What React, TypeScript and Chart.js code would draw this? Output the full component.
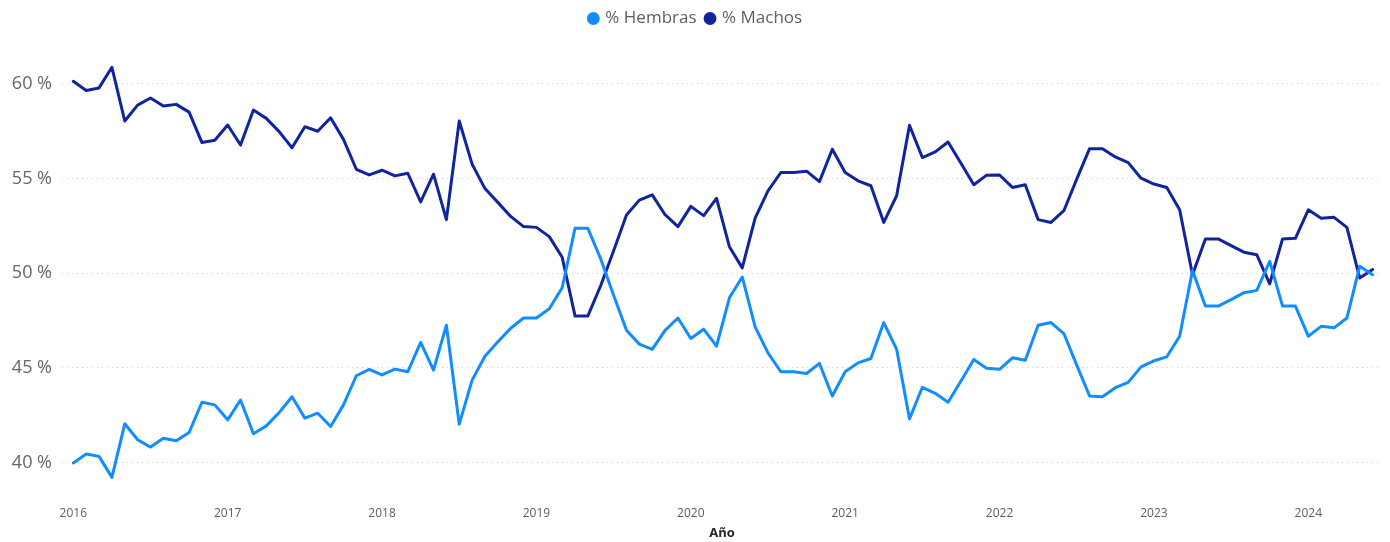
import React, { useEffect, useRef } from "react";
import { Chart, registerables } from "chart.js";

Chart.register(...registerables);

const YEARS = ["2016", "2017", "2018", "2019", "2020", "2021", "2022", "2023", "2024"];
const MONTHS = ["01", "02", "03", "04", "05", "06", "07", "08", "09", "10", "11", "12"];

const MACHOS = [
  60.14, 59.65, 59.79, 60.88, 58.04, 58.88, 59.26, 58.83, 58.92, 58.51, 56.9, 57.02,
  57.83, 56.77, 58.62, 58.18, 57.48, 56.63, 57.74, 57.5, 58.21, 57.07, 55.49, 55.19,
  55.44, 55.14, 55.28, 53.77, 55.23, 52.83, 58.04, 55.76, 54.47, 53.74, 53.0, 52.46,
  52.42, 51.93, 50.84, 47.74, 47.74, 49.35, 51.19, 53.07, 53.86, 54.14, 53.09, 52.46,
  53.53, 53.04, 53.95, 51.4, 50.28, 52.91, 54.35, 55.32, 55.32, 55.39, 54.84, 56.55,
  55.32, 54.88, 54.62, 52.68, 54.09, 57.81, 56.11, 56.41, 56.93, 55.81, 54.67, 55.18,
  55.19, 54.53, 54.67, 52.83, 52.68, 53.3, 54.97, 56.58, 56.58, 56.14, 55.84, 55.02,
  54.71, 54.53, 53.35, 49.92, 51.81, 51.81, 51.46, 51.11, 50.97, 49.44, 51.81, 51.84,
  53.35, 52.9, 52.95, 52.42, 49.74, 50.19,
];

const HEMBRAS = [
  39.97, 40.44, 40.32, 39.21, 42.04, 41.2, 40.81, 41.28, 41.14, 41.58, 43.18, 43.04,
  42.25, 43.3, 41.51, 41.93, 42.63, 43.47, 42.34, 42.6, 41.9, 43.04, 44.58, 44.92,
  44.62, 44.93, 44.79, 46.34, 44.88, 47.25, 42.02, 44.35, 45.61, 46.37, 47.09, 47.63,
  47.63, 48.12, 49.23, 52.37, 52.37, 50.75, 48.83, 46.98, 46.25, 45.97, 46.98, 47.63,
  46.55, 47.04, 46.14, 48.7, 49.8, 47.16, 45.79, 44.79, 44.79, 44.7, 45.23, 43.51,
  44.79, 45.26, 45.49, 47.39, 45.98, 42.3, 43.97, 43.65, 43.18, 44.3, 45.44, 44.97,
  44.92, 45.53, 45.4, 47.25, 47.39, 46.81, 45.14, 43.51, 43.47, 43.95, 44.23, 45.05,
  45.37, 45.58, 46.67, 50.14, 48.26, 48.26, 48.6, 48.97, 49.09, 50.63, 48.26, 48.26,
  46.67, 47.19, 47.11, 47.63, 50.37, 49.92,
];

const Y_TICKS = [40, 45, 50, 55, 60];

const LABELS = YEARS.flatMap((y) => MONTHS.map((m) => `${y}-${m}`)).slice(0, MACHOS.length);

const FONT = "'Segoe UI', 'Open Sans', 'Noto Sans', sans-serif";

export default function App() {
  const ref = useRef<HTMLCanvasElement | null>(null);

  useEffect(() => {
    if (!ref.current) return;
    const toPoints = (arr: number[]) => arr.map((v, i) => ({ x: i, y: v, label: LABELS[i] }));
    const chart = new Chart(ref.current, {
      type: "line",
      data: {
        datasets: [
          {
            label: "% Hembras",
            data: toPoints(HEMBRAS),
            borderColor: "#118DFF",
            backgroundColor: "#118DFF",
            borderWidth: 3,
            pointRadius: 0,
            tension: 0,
            borderJoinStyle: "round",
            borderCapStyle: "round",
          },
          {
            label: "% Machos",
            data: toPoints(MACHOS),
            borderColor: "#12239E",
            backgroundColor: "#12239E",
            borderWidth: 3,
            pointRadius: 0,
            tension: 0,
            borderJoinStyle: "round",
            borderCapStyle: "round",
          },
        ],
      },
      options: {
        animation: false,
        responsive: true,
        maintainAspectRatio: false,
        layout: { padding: { left: 10, right: 8, top: 0, bottom: 0 } },
        plugins: {
          legend: {
            position: "top",
            align: "center",
            labels: {
              usePointStyle: true,
              pointStyle: "circle",
              boxWidth: 7,
              boxHeight: 7,
              padding: 10,
              color: "#605E5C",
              font: { family: FONT, size: 17 },
            },
          },
          tooltip: { enabled: false },
        },
        scales: {
          x: {
            type: "linear",
            min: -0.88,
            max: 101.73,
            afterBuildTicks: (scale: any) => {
              scale.ticks = YEARS.map((_, i) => ({ value: i * 12 }));
            },
            afterFit: (scale: any) => {
              scale.height = 51.2;
            },
            ticks: {
              autoSkip: false,
              maxRotation: 0,
              padding: 16,
              color: "#605E5C",
              font: { family: FONT, size: 12 },
              callback: (v: any) => YEARS[Math.round(Number(v) / 12)] ?? "",
            },
            grid: { display: false, drawTicks: false },
            border: { display: false },
            title: {
              display: true,
              text: "Año",
              color: "#252423",
              font: { family: FONT, size: 13, weight: "bold" },
              padding: { top: 3, bottom: 1 },
            },
          },
          y: {
            min: 38.5,
            max: 62.48,
            afterBuildTicks: (scale: any) => {
              scale.ticks = Y_TICKS.map((v) => ({ value: v }));
            },
            afterFit: (scale: any) => {
              scale.width = 52;
            },
            ticks: {
              padding: 10,
              color: "#666666",
              font: { family: FONT, size: 18 },
              callback: (v: any) => `${v} %`,
            },
            grid: { color: "#CFCFCF", lineWidth: 1, drawTicks: false },
            border: { display: false, dash: [1, 4] },
          },
        },
      },
    });
    return () => chart.destroy();
  }, []);

  return (
    <div style={{ position: "absolute", left: 0, top: 0, width: 1390, height: 542, background: "#fff" }}>
      <canvas ref={ref} />
    </div>
  );
}
